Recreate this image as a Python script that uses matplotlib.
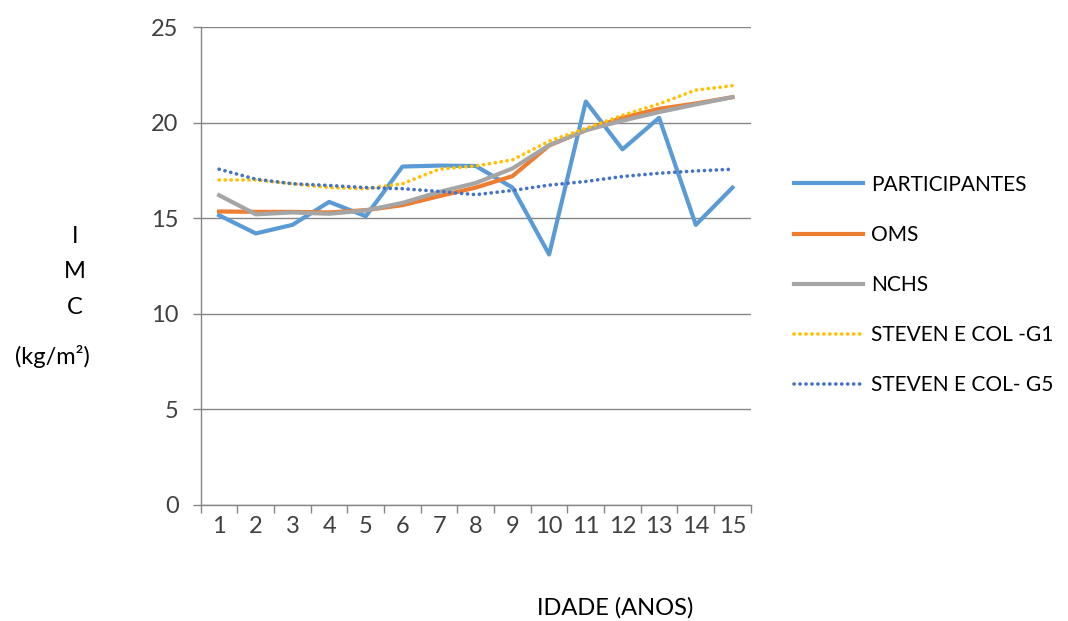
import matplotlib.pyplot as plt
from matplotlib.ticker import MultipleLocator, FixedLocator

# --- Data ---
idade = list(range(1, 16))
participantes = [15.15, 14.2, 14.65, 15.85, 15.1, 17.7, 17.75, 17.73, 16.6, 13.1, 21.1, 18.6, 20.25, 14.65, 16.6]
oms = [15.35, 15.33, 15.33, 15.3, 15.42, 15.68, 16.15, 16.6, 17.2, 18.8, 19.6, 20.25, 20.72, 21.0, 21.33]
nchs = [16.2, 15.2, 15.3, 15.23, 15.4, 15.8, 16.37, 16.84, 17.6, 18.82, 19.6, 20.1, 20.55, 20.95, 21.33]
steven_g1 = [17.0, 17.0, 16.8, 16.6, 16.54, 16.8, 17.56, 17.73, 18.05, 19.03, 19.7, 20.38, 20.98, 21.7, 21.93]
steven_g5 = [17.56, 17.04, 16.8, 16.71, 16.6, 16.54, 16.4, 16.23, 16.45, 16.73, 16.92, 17.18, 17.35, 17.47, 17.56]

plt.rcParams['font.family'] = ['Lato', 'DejaVu Sans']

fig = plt.figure(figsize=(10.68, 6.21), dpi=100)
ax = fig.add_axes([0.188, 0.187, 0.515, 0.7695])

dots = (0, (0.05, 1.6))
ax.plot(idade, participantes, color='#5B9BD5', lw=3, label='PARTICIPANTES')
ax.plot(idade, oms, color='#ED7D31', lw=3, label='OMS')
ax.plot(idade, nchs, color='#A5A5A5', lw=3, label='NCHS')
ax.plot(idade, steven_g1, color='#FFC000', lw=2.6, ls=dots, dash_capstyle='round', label='STEVEN E COL -G1')
ax.plot(idade, steven_g5, color='#4472C4', lw=2.6, ls=dots, dash_capstyle='round', label='STEVEN E COL- G5')

ax.set_xlim(0.5, 15.5)
ax.set_ylim(0, 25)
ax.yaxis.set_major_locator(MultipleLocator(5))
ax.set_xticks(idade)
ax.xaxis.set_minor_locator(FixedLocator([i + 0.5 for i in range(0, 16)]))
ax.tick_params(axis='x', which='major', length=0, labelsize=17, pad=8, labelcolor='#404040')
ax.tick_params(axis='x', which='minor', length=6, color='#868686', width=1)
ax.tick_params(axis='y', length=6, color='#868686', width=1, labelsize=17, pad=10, labelcolor='#404040')
ax.grid(axis='y', color='#868686', lw=1)
ax.set_axisbelow(True)
for s in ['top', 'right']:
    ax.spines[s].set_visible(False)
for s in ['left', 'bottom']:
    ax.spines[s].set_color('#868686')
    ax.spines[s].set_linewidth(1)

# axis titles
for txt, y in [('I', 237), ('M', 272), ('C', 308)]:
    fig.text(75 / 1068, 1 - y / 621, txt, ha='center', va='center', fontsize=17, color='black')
fig.text(52 / 1068, 1 - 357 / 621, '(kg/m²)', ha='center', va='center', fontsize=17, color='black')
fig.text(615 / 1068, 1 - 608 / 621, 'IDADE (ANOS)', ha='center', va='center', fontsize=17, color='black')

ax.legend(loc='center left', bbox_to_anchor=(775 / 1068, 1 - 285 / 621), bbox_transform=fig.transFigure,
          frameon=False, fontsize=15, handlelength=3.3, labelspacing=1.45, handletextpad=0.4)

fig.savefig('out.png', dpi=100)
